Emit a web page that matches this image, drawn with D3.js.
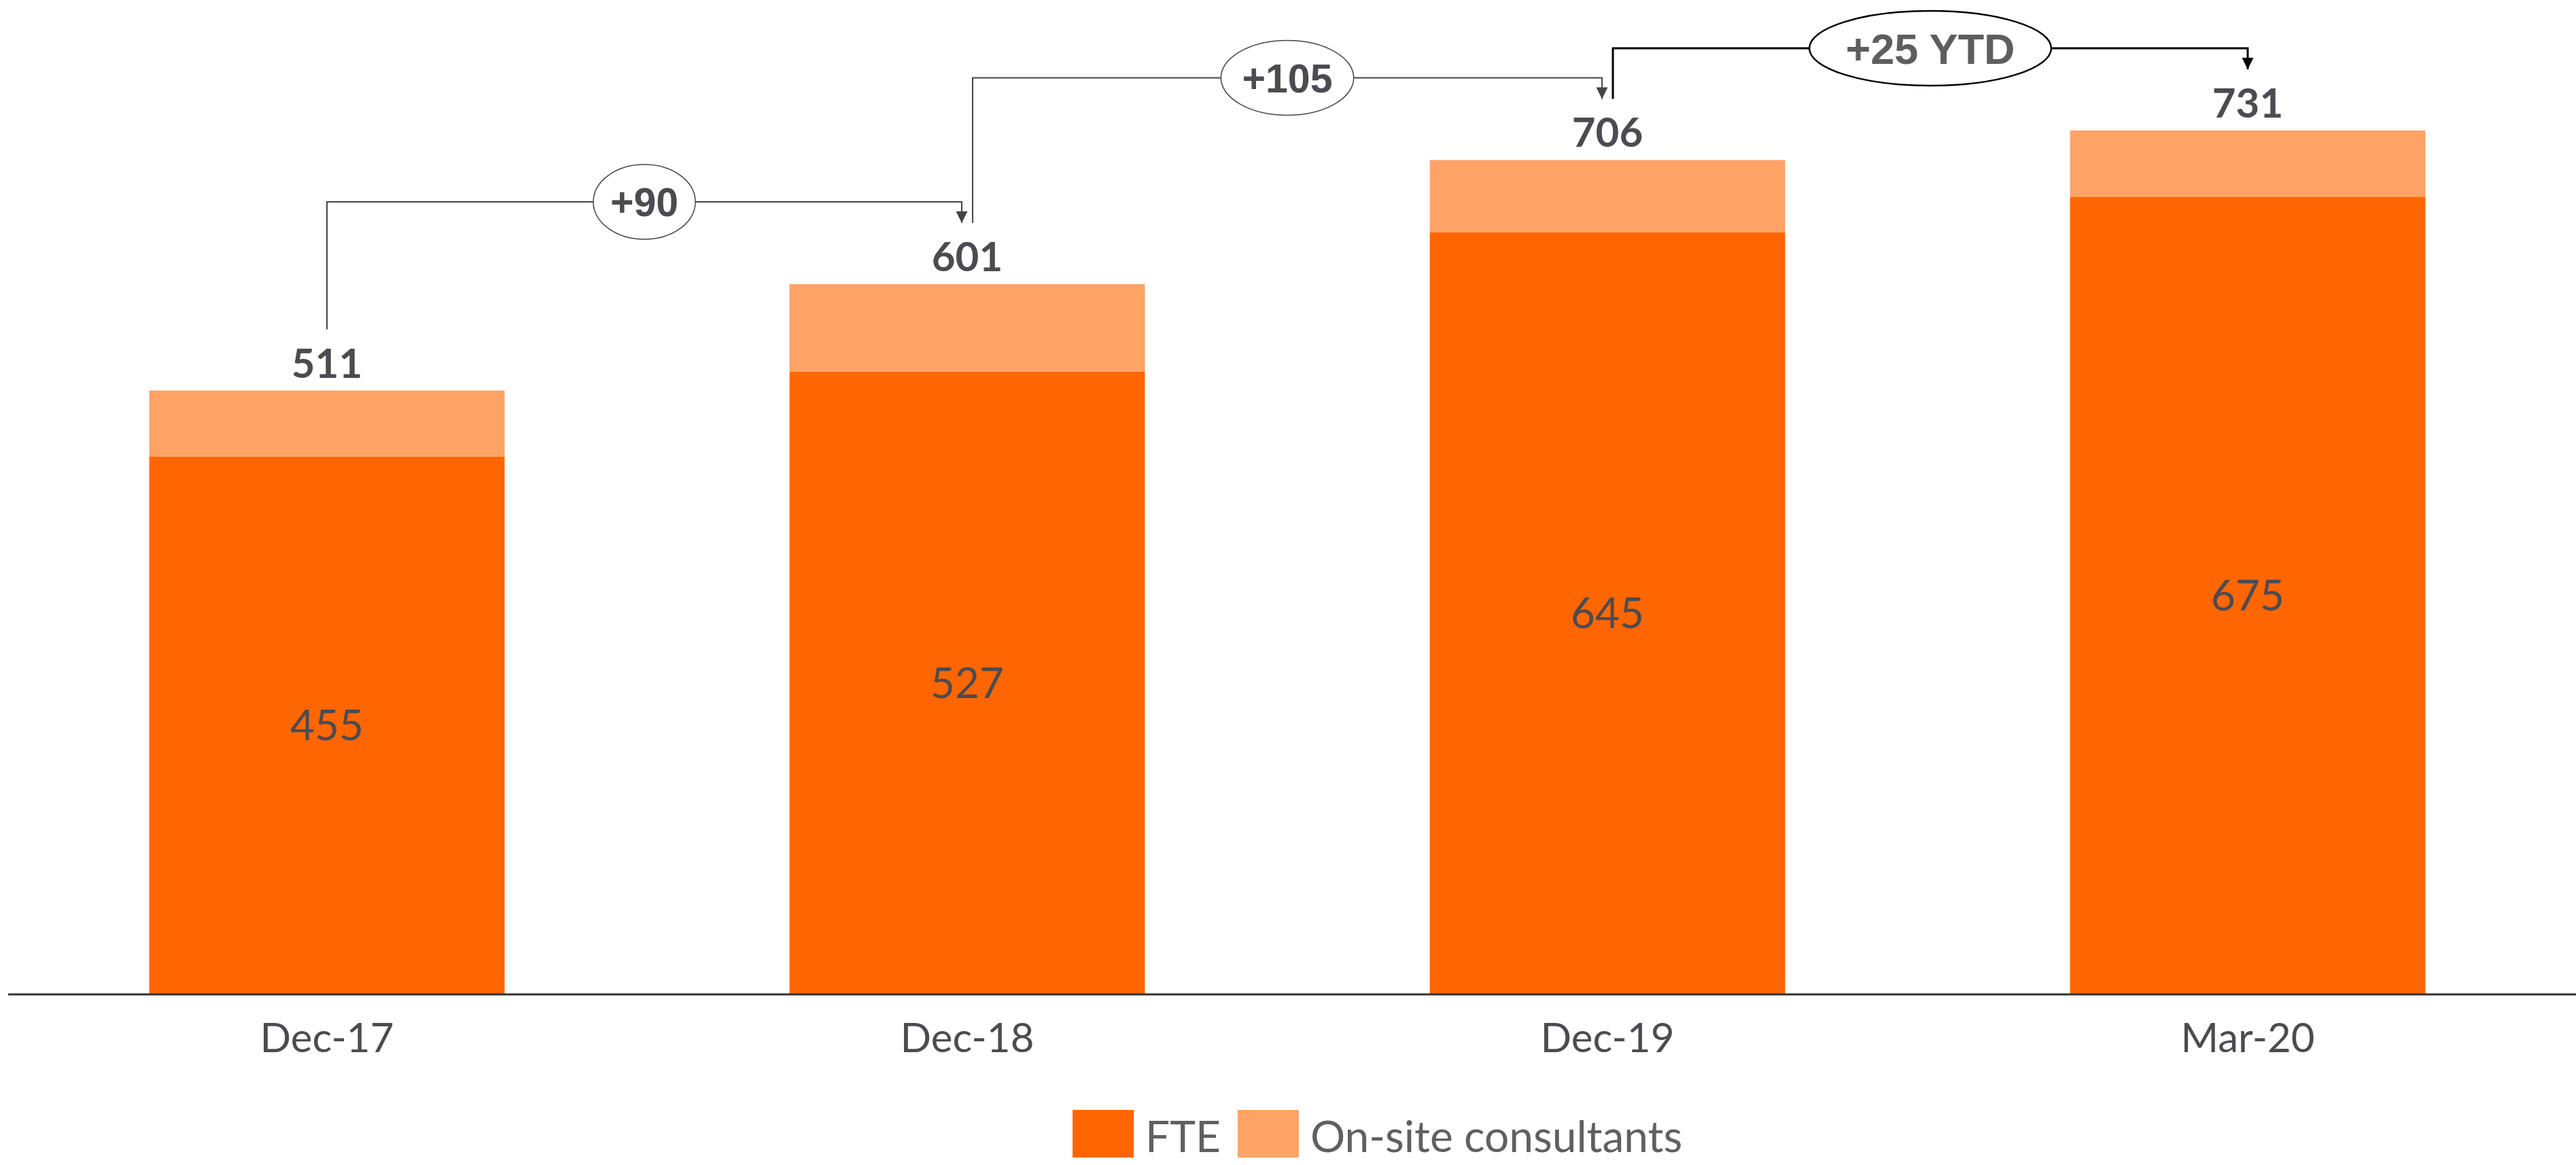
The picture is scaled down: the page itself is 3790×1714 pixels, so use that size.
<!DOCTYPE html>
<html>
<head>
<meta charset="utf-8">
<script src="https://cdn.jsdelivr.net/npm/d3@7"></script>
<style>
  body { margin: 0; background: #fff; }
  svg { display: block; }
</style>
</head>
<body>
<div id="chart"></div>
<script>
const categories = ["Dec-17", "Dec-18", "Dec-19", "Mar-20"];
const fte = [455, 527, 645, 675];
const consultants = [56, 74, 61, 56];
const totals = [511, 601, 706, 731];
const changes = ["+90", "+105", "+25 YTD"];
const seriesNames = ["FTE", "On-site consultants"];

const width = 3790, height = 1714;
const colors = ["#ff6600", "#ffa366"];
const textCol = "#4b4b51";

const svg = d3.select("#chart")
  .append("svg")
  .attr("width", width)
  .attr("height", height);

let data = categories.map((c, i) => ({ cat: c, FTE: fte[i], cons: consultants[i] }));

let x = d3.scaleBand()
  .domain(categories)
  .range([10, 3778])
  .paddingInner(0.445)
  .paddingOuter(0.2225);

let y = d3.scaleLinear()
  .domain([0, 731])
  .range([1463, 192]);

let stack = d3.stack().keys(["FTE", "cons"]);
let series = stack(data);

svg.append("g")
  .selectAll("g")
  .data(series)
  .join("g")
  .attr("fill", (d, i) => colors[i])
  .selectAll("rect")
  .data(d => d)
  .join("rect")
  .attr("x", d => x(d.data.cat))
  .attr("y", d => y(d[1]))
  .attr("width", x.bandwidth())
  .attr("height", d => y(d[0]) - y(d[1]));

// axis line + category labels
svg.append("line")
  .attr("x1", 12).attr("x2", width)
  .attr("y1", y(0)).attr("y2", y(0))
  .attr("stroke", "#333").attr("stroke-width", 3);

svg.append("g")
  .selectAll("text")
  .data(categories)
  .join("text")
  .attr("x", d => x(d) + x.bandwidth() / 2)
  .attr("y", y(0) + 85)
  .attr("text-anchor", "middle")
  .attr("font-family", "Lato")
  .attr("font-size", 60)
  .attr("fill", textCol)
  .text(d => d);

// FTE values inside bars
svg.append("g")
  .selectAll("text")
  .data(data)
  .join("text")
  .attr("x", d => x(d.cat) + x.bandwidth() / 2)
  .attr("y", d => (y(0) + y(d.FTE)) / 2)
  .attr("dy", "0.35em")
  .attr("text-anchor", "middle")
  .attr("font-family", "Lato")
  .attr("font-size", 62)
  .attr("fill", textCol)
  .text(d => d.FTE);

// totals
svg.append("g")
  .selectAll("text")
  .data(totals)
  .join("text")
  .attr("x", (d, i) => x(categories[i]) + x.bandwidth() / 2)
  .attr("y", d => y(d) - 19)
  .attr("text-anchor", "middle")
  .attr("font-family", "Lato")
  .attr("font-weight", "bold")
  .attr("font-size", 60)
  .attr("fill", textCol)
  .text(d => d);

// change brackets
let defs = svg.append("defs");
["#444", "#000"].forEach((c, i) => {
  defs.append("marker")
    .attr("id", "arr" + i)
    .attr("viewBox", "0 0 10 10")
    .attr("refX", 10).attr("refY", 5)
    .attr("markerUnits", "userSpaceOnUse")
    .attr("markerWidth", 18).attr("markerHeight", 17)
    .attr("orient", "auto")
    .append("path")
    .attr("d", "M0,0L10,5L0,10Z")
    .attr("fill", c);
});

changes.forEach((lab, i) => {
  let last = i === changes.length - 1;
  let col = last ? "#000" : "#444";
  let sw = last ? 3 : 2;
  let cx0 = x(categories[i]) + x.bandwidth() / 2;
  let cx1 = x(categories[i + 1]) + x.bandwidth() / 2;
  let x0 = i > 0 ? cx0 + 8 : cx0;
  let x1 = last ? cx1 : cx1 - 8;
  let y0 = y(totals[i]) - 90;
  let yh = y(totals[i + 1]) - 121;
  let y1 = y(totals[i + 1]) - 90;

  let g = svg.append("g");
  g.append("path")
    .attr("d", `M${x0},${y0}V${yh}H${x1}V${y1}`)
    .attr("fill", "none")
    .attr("stroke", col)
    .attr("stroke-width", sw)
    .attr("marker-end", `url(#arr${last ? 1 : 0})`);

  let mx = (x0 + x1) / 2;
  let ell = g.append("ellipse")
    .attr("cx", mx).attr("cy", yh)
    .attr("ry", 55)
    .attr("fill", "#fff")
    .attr("stroke", col)
    .attr("stroke-width", last ? 2.5 : 1.5);

  let t = g.append("text")
    .attr("x", mx).attr("y", yh)
    .attr("dy", "0.36em")
    .attr("text-anchor", "middle")
    .attr("font-family", "Liberation Sans")
    .attr("font-weight", "bold")
    .attr("font-size", last ? 63 : 59)
    .attr("fill", last ? "#5e5e5e" : textCol)
    .text(lab);

  let w = t.node().getComputedTextLength();
  ell.attr("rx", w / 2 * 1.38 + 6);
});

// legend
let lg = svg.append("g").attr("transform", "translate(1578,1633)");
let lx = 0;
seriesNames.forEach((name, i) => {
  lg.append("rect")
    .attr("x", lx).attr("y", 0)
    .attr("width", 90).attr("height", 70)
    .attr("fill", colors[i]);
  let t = lg.append("text")
    .attr("x", lx + 107).attr("y", 62)
    .attr("font-family", "Lato")
    .attr("font-size", 64)
    .attr("fill", "#606060")
    .text(name);
  lx += 107 + t.node().getComputedTextLength() + 25;
});
</script>
</body>
</html>
